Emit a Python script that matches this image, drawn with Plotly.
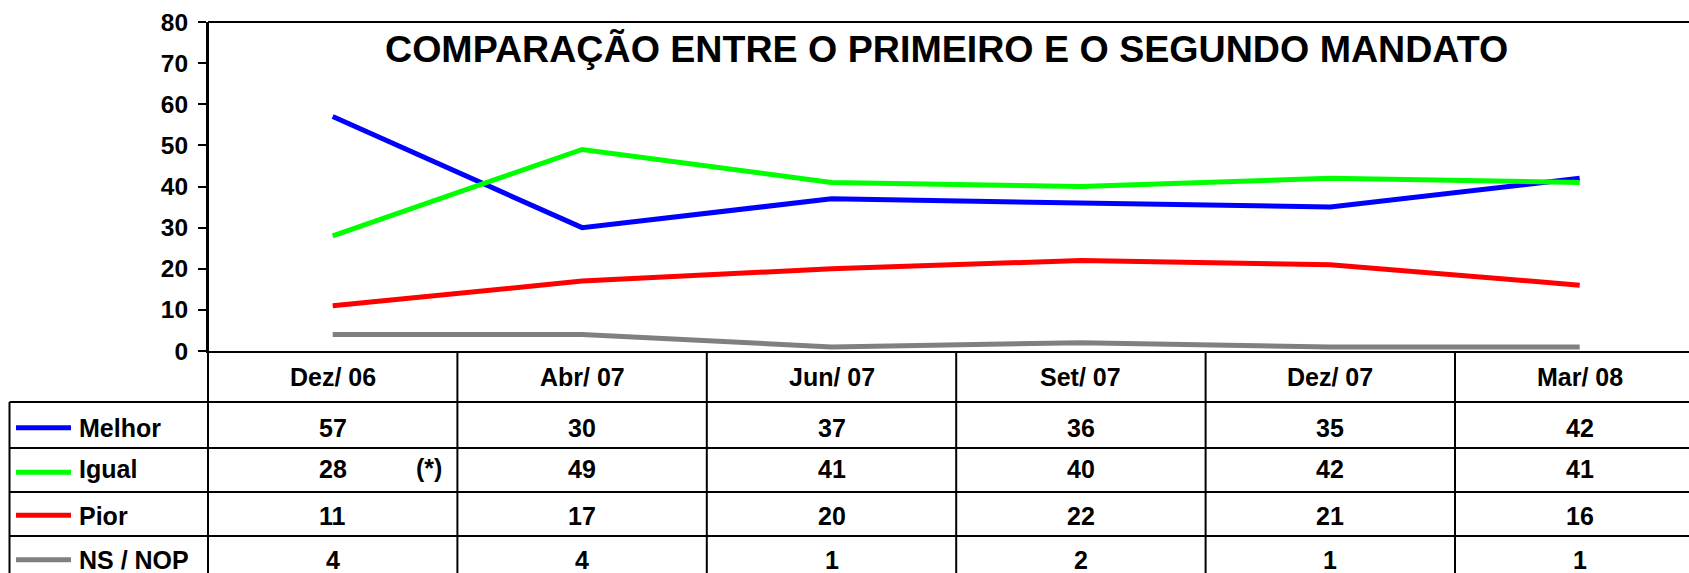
import plotly.graph_objects as go

categories = ["Dez/ 06", "Abr/ 07", "Jun/ 07", "Set/ 07", "Dez/ 07", "Mar/ 08"]
melhor = [57, 30, 37, 36, 35, 42]
igual = [28, 49, 41, 40, 42, 41]
pior = [11, 17, 20, 22, 21, 16]
ns_nop = [4, 4, 1, 2, 1, 1]

series_names = ["Melhor", "Igual", "Pior", "NS / NOP"]
series_values = [melhor, igual, pior, ns_nop]
series_colors = ["#0000FF", "#00FF00", "#FF0000", "#808080"]
title_text = "COMPARAÇÃO ENTRE O PRIMEIRO E O SEGUNDO MANDATO"
note_text = "(*)"

W, H = 1689, 573
L, R, T, B = 208, 0, 22, 222
PW = W - L - R
PH = H - T - B
COLW = 249.4
FONT = "Liberation Sans, Arial, sans-serif"


def px(xp):
    return (xp - L) / PW


def py(yp):
    return (T + PH - yp) / PH


fig = go.Figure()
for name, vals, col in zip(series_names, series_values, series_colors):
    fig.add_trace(go.Scatter(x=categories, y=vals, mode="lines", name=name,
                             line=dict(color=col, width=5), showlegend=False))

xmax = -0.5 + PW / COLW

shapes = []
line_col = "black"
shapes.append(dict(type="line", xref="paper", yref="paper", x0=0, x1=1.02,
                   y0=1, y1=1, line=dict(color=line_col, width=2)))
shapes.append(dict(type="line", xref="paper", yref="paper", x0=0, x1=0,
                   y0=1, y1=py(H + 20), line=dict(color=line_col, width=2)))
for i in range(1, len(categories) + 1):
    shapes.append(dict(type="line", xref="x", yref="paper", x0=i - 0.5, x1=i - 0.5,
                       y0=py(351), y1=py(H + 20), line=dict(color=line_col, width=2)))
row_lines = [402, 448, 492, 536]
for yl in row_lines:
    shapes.append(dict(type="line", xref="paper", yref="paper", x0=px(9.5), x1=1.02,
                       y0=py(yl), y1=py(yl), line=dict(color=line_col, width=2)))
shapes.append(dict(type="line", xref="paper", yref="paper", x0=px(9.5), x1=px(9.5),
                   y0=py(402), y1=py(H + 20), line=dict(color=line_col, width=2)))

annotations = []
annotations.append(dict(text=title_text, xref="paper", yref="paper", x=px(946), y=py(49.5),
                        xanchor="center", yanchor="middle", showarrow=False,
                        font=dict(family=FONT, size=37.6, color="black", weight="bold")))
for c in categories:
    annotations.append(dict(text=c, xref="x", yref="paper", x=c, y=py(377),
                            xanchor="center", yanchor="middle", showarrow=False,
                            font=dict(family=FONT, size=25, color="black", weight="bold")))
row_text_y = [428, 469, 515.5, 560]
legend_line_y = [427.7, 472.3, 515.3, 559.7]
for name, vals, col, ty, ly in zip(series_names, series_values, series_colors, row_text_y, legend_line_y):
    shapes.append(dict(type="line", xref="paper", yref="paper", x0=px(16), x1=px(71),
                       y0=py(ly), y1=py(ly), line=dict(color=col, width=5)))
    annotations.append(dict(text=name, xref="paper", yref="paper", x=px(77), y=py(ty),
                            xanchor="left", yanchor="middle", showarrow=False,
                            font=dict(family=FONT, size=25, color="black", weight="bold")))
    for c, v in zip(categories, vals):
        annotations.append(dict(text=str(v), xref="x", yref="paper", x=c, y=py(ty),
                                xanchor="center", yanchor="middle", showarrow=False,
                                font=dict(family=FONT, size=25, color="black", weight="bold")))
annotations.append(dict(text=note_text, xref="paper", yref="paper", x=px(429), y=py(468),
                        xanchor="center", yanchor="middle", showarrow=False,
                        font=dict(family=FONT, size=25, color="black", weight="bold")))

fig.update_layout(
    width=W, height=H, autosize=False,
    margin=dict(l=L, r=R, t=T, b=B, pad=0),
    paper_bgcolor="white", plot_bgcolor="white",
    shapes=shapes, annotations=annotations,
    xaxis=dict(type="category", range=[-0.5, xmax], showticklabels=False, ticks="",
               showgrid=False, zeroline=False, showline=True, linecolor="black", linewidth=2,
               mirror=False, fixedrange=True),
    yaxis=dict(range=[0, 80], dtick=10, tick0=0, showgrid=False, zeroline=False,
               showline=True, linecolor="black", linewidth=2, ticks="outside", ticklen=8,
               tickwidth=2, tickcolor="black", ticklabelstandoff=5,
               tickfont=dict(family=FONT, size=24.5, color="black", weight="bold")),
)

fig.write_html("out.html", config={"displayModeBar": False},
               post_script="document.body.style.margin='0';document.body.style.overflow='hidden';")
